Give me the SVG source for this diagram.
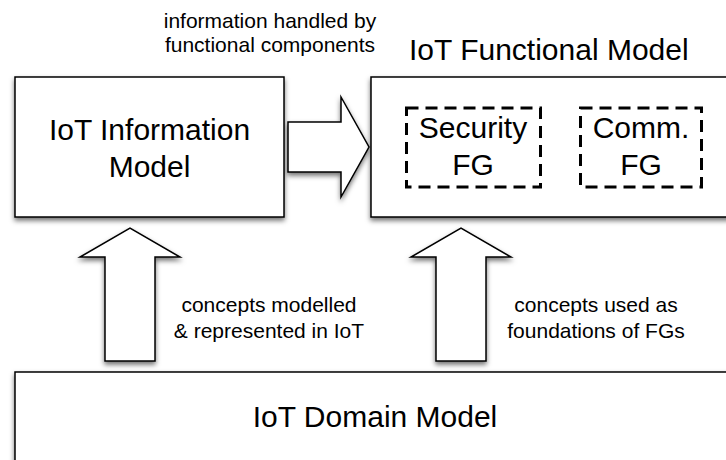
<svg xmlns="http://www.w3.org/2000/svg" width="726" height="460" viewBox="0 0 726 460">
<defs>
<filter id="sh" x="-20%" y="-20%" width="140%" height="150%">
<feDropShadow dx="0" dy="3" stdDeviation="2.5" flood-color="#000" flood-opacity="0.55"/>
</filter>
<style>
.box{fill:#fff;stroke:#000;stroke-width:1.5;filter:url(#sh)}
.arrow{fill:#fff;stroke:#000;stroke-width:1.5;stroke-linejoin:miter;filter:url(#sh)}
.fg{fill:none;stroke:#000;stroke-width:3;stroke-dasharray:12 7}
text{font-family:"Liberation Sans",Arial,sans-serif;fill:#000}
.big{font-size:30px}
.lbl{font-size:21px}
.mid{text-anchor:middle}
</style>
</defs>
<rect width="726" height="460" fill="#fff"/>

<g id="connectors">
<polygon class="arrow" points="288,122 341,122 341,97 369,147 341,197 341,172 288,172"/>
<polygon class="arrow" points="105,361 105,257 80,257 130,228 180,257 155,257 155,361"/>
<polygon class="arrow" points="436,361 436,257 411,257 461,228 511,257 486,257 486,361"/>
</g>

<g id="info-model">
<rect class="box" x="15" y="77" width="269" height="140"/>
<text class="big mid" x="149.5" y="140">IoT Information</text>
<text class="big mid" x="149.5" y="177">Model</text>
</g>

<g id="functional-model">
<rect class="box" x="371" y="77" width="370" height="140"/>
<text class="big" x="409" y="60">IoT Functional Model</text>
</g>

<g id="security-fg">
<rect class="fg" x="406.5" y="108" width="134" height="79"/>
<text class="big mid" x="473" y="138">Security</text>
<text class="big mid" x="473" y="175">FG</text>
</g>

<g id="comm-fg">
<rect class="fg" x="580.5" y="108" width="121" height="79"/>
<text class="big mid" x="641" y="138">Comm.</text>
<text class="big mid" x="641" y="175">FG</text>
</g>

<g id="domain-model">
<rect class="box" x="15" y="372" width="730" height="110"/>
<text class="big mid" x="375" y="427">IoT Domain Model</text>
</g>

<g id="labels">
<text class="lbl mid" x="270" y="28">information handled by</text>
<text class="lbl mid" x="270" y="52">functional components</text>
<text class="lbl mid" x="269" y="312">concepts modelled</text>
<text class="lbl mid" x="269" y="338">&amp; represented in IoT</text>
<text class="lbl mid" x="596" y="312">concepts used as</text>
<text class="lbl mid" x="596" y="338">foundations of FGs</text>
</g>
</svg>
